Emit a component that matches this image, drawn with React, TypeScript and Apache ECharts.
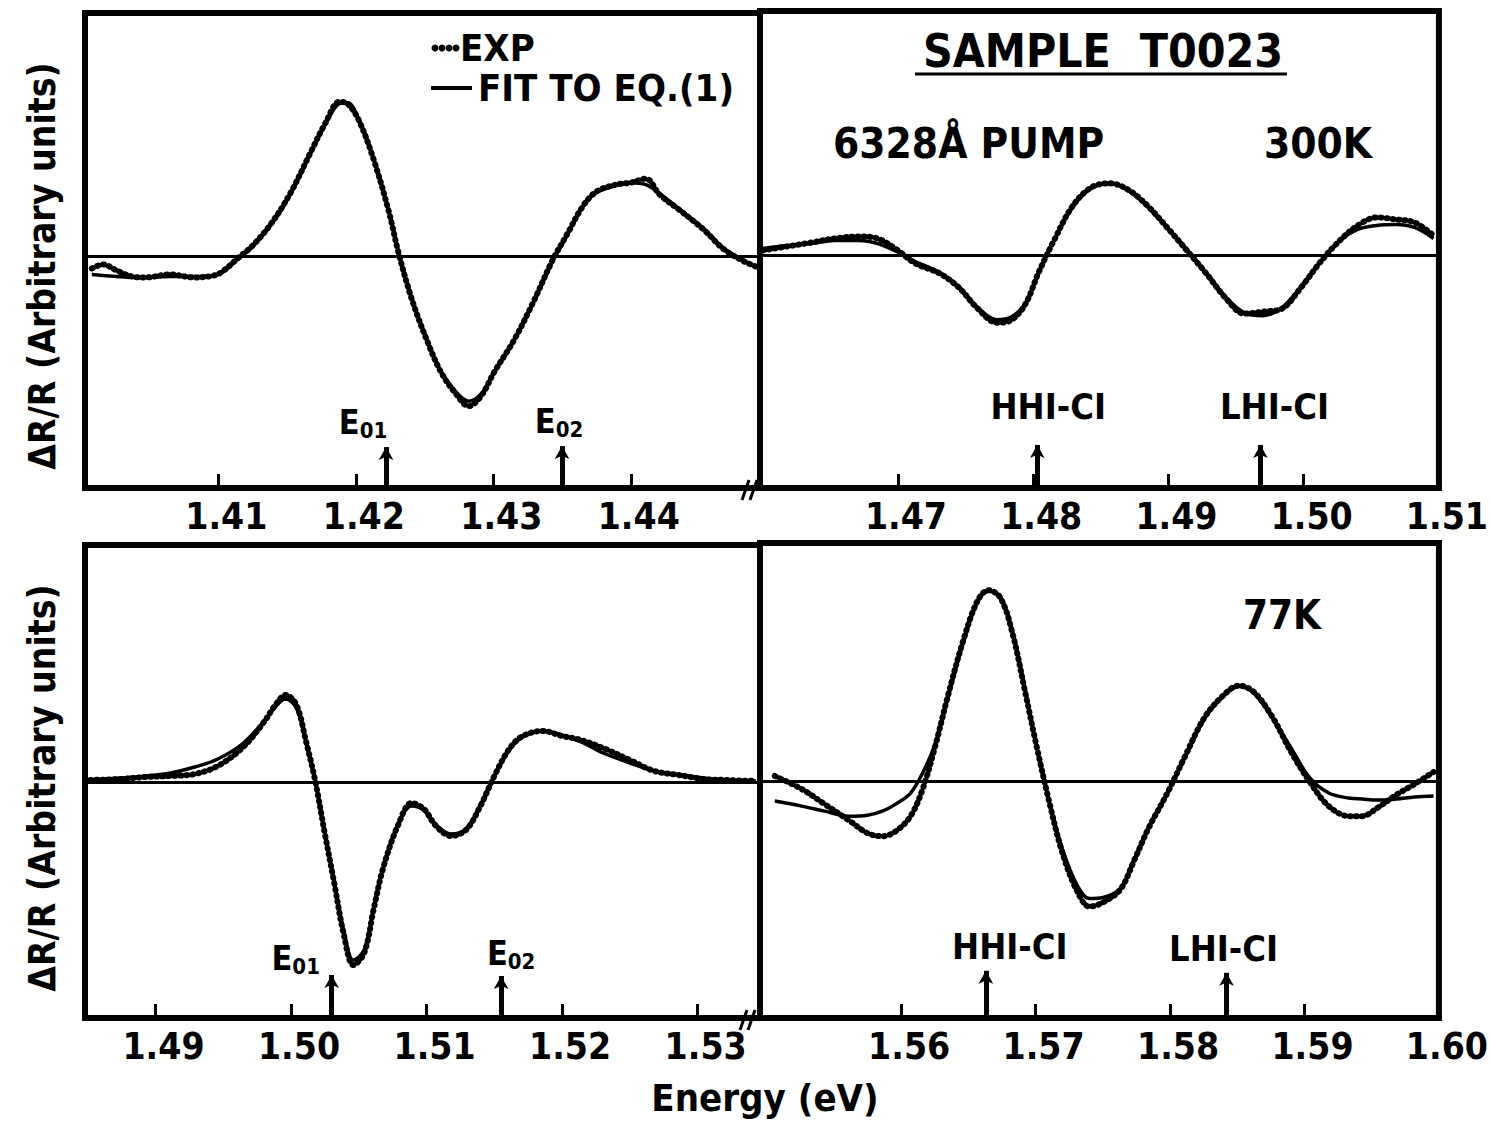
import React, { useEffect, useRef } from "react";
import * as echarts from "echarts";

// ---------- DATA ----------
// Top-left panel (300K, E01/E02 region)
const tlEnergy = [1.4008, 1.4016, 1.4026, 1.4037, 1.4047, 1.4065, 1.4082, 1.4097, 1.4104, 1.4114, 1.4125, 1.4139, 1.4153, 1.4167, 1.4178, 1.4188, 1.4194, 1.4202, 1.4213, 1.4224, 1.4231, 1.4241, 1.4252, 1.4262, 1.4273, 1.4282, 1.4291, 1.4301, 1.4315, 1.4329, 1.4343, 1.4354, 1.4365, 1.4375, 1.4389, 1.4400, 1.4411, 1.4421, 1.4435, 1.4453, 1.4467, 1.4481, 1.4491];
const tlFit = [-0.18, -0.19, -0.2, -0.21, -0.21, -0.2, -0.2, -0.19, -0.15, -0.03, 0.1, 0.33, 0.64, 1.03, 1.33, 1.53, 1.54, 1.38, 0.98, 0.46, 0.05, -0.43, -0.84, -1.15, -1.36, -1.45, -1.38, -1.15, -0.84, -0.46, -0.05, 0.22, 0.5, 0.64, 0.71, 0.74, 0.72, 0.63, 0.48, 0.28, 0.09, -0.03, -0.1];
const tlExp = [-0.12, -0.08, -0.14, -0.2, -0.21, -0.18, -0.21, -0.19, -0.14, -0.02, 0.11, 0.34, 0.65, 1.04, 1.34, 1.55, 1.53, 1.37, 0.97, 0.45, 0.04, -0.44, -0.85, -1.16, -1.38, -1.5, -1.4, -1.15, -0.84, -0.46, -0.04, 0.23, 0.5, 0.65, 0.72, 0.74, 0.78, 0.62, 0.47, 0.27, 0.08, -0.04, -0.1];

// Top-right panel (300K, HH1-C1 / LH1-C1 region)
const trEnergy = [1.46, 1.4618, 1.4636, 1.4653, 1.4671, 1.4685, 1.4699, 1.4713, 1.4731, 1.4745, 1.4759, 1.4773, 1.4783, 1.4794, 1.4804, 1.4815, 1.4829, 1.4843, 1.4857, 1.4871, 1.4885, 1.4899, 1.4913, 1.4928, 1.4942, 1.4956, 1.497, 1.4984, 1.4998, 1.5012, 1.5026, 1.504, 1.5054, 1.5068, 1.5082, 1.5096];
const trFit = [0.07, 0.1, 0.12, 0.15, 0.15, 0.12, 0.04, -0.06, -0.17, -0.31, -0.52, -0.64, -0.62, -0.48, -0.17, 0.14, 0.48, 0.67, 0.72, 0.64, 0.48, 0.28, 0.07, -0.17, -0.41, -0.57, -0.6, -0.52, -0.31, -0.07, 0.14, 0.26, 0.3, 0.31, 0.28, 0.17];
const trExp = [0.05, 0.09, 0.13, 0.17, 0.19, 0.17, 0.06, -0.08, -0.18, -0.32, -0.53, -0.67, -0.65, -0.49, -0.17, 0.14, 0.49, 0.68, 0.72, 0.65, 0.49, 0.28, 0.06, -0.18, -0.42, -0.58, -0.56, -0.53, -0.32, -0.07, 0.14, 0.3, 0.38, 0.36, 0.33, 0.2];

// Bottom-left panel (77K, E01/E02 region)
const blEnergy = [1.4852, 1.4875, 1.4893, 1.4911, 1.4929, 1.4946, 1.4964, 1.4979, 1.4989, 1.4996, 1.5004, 1.5011, 1.5018, 1.5025, 1.5032, 1.5039, 1.5046, 1.5054, 1.5061, 1.5068, 1.5079, 1.5089, 1.5098, 1.5107, 1.5118, 1.5129, 1.5139, 1.515, 1.5161, 1.5171, 1.5186, 1.52, 1.5214, 1.5232, 1.525, 1.5268, 1.5286, 1.5304, 1.5321, 1.5343];
const blFit = [0.02, 0.04, 0.06, 0.09, 0.15, 0.23, 0.38, 0.59, 0.76, 0.83, 0.74, 0.4, 0.0, -0.51, -1.0, -1.49, -1.78, -1.68, -1.26, -0.85, -0.42, -0.24, -0.28, -0.43, -0.52, -0.47, -0.25, 0.06, 0.32, 0.45, 0.51, 0.47, 0.4, 0.28, 0.19, 0.11, 0.075, 0.04, 0.02, 0.01];
const blExp = [0.02, 0.03, 0.05, 0.06, 0.08, 0.16, 0.34, 0.58, 0.78, 0.87, 0.77, 0.41, 0.0, -0.52, -1.02, -1.53, -1.83, -1.71, -1.27, -0.86, -0.43, -0.21, -0.27, -0.44, -0.54, -0.48, -0.26, 0.06, 0.33, 0.46, 0.51, 0.46, 0.42, 0.33, 0.22, 0.11, 0.07, 0.03, 0.02, 0.01];

// Bottom-right panel (77K, HH1-C1 / LH1-C1 region)
const brEnergy = [1.5506, 1.5526, 1.5543, 1.5561, 1.5575, 1.5586, 1.5596, 1.5607, 1.5616, 1.5625, 1.5635, 1.5646, 1.5657, 1.5665, 1.5674, 1.5683, 1.5692, 1.5701, 1.571, 1.572, 1.5731, 1.574, 1.575, 1.5763, 1.5773, 1.5784, 1.5798, 1.5812, 1.5826, 1.5841, 1.5851, 1.5862, 1.5876, 1.589, 1.5904, 1.5918, 1.5933, 1.5943, 1.5954, 1.5968, 1.5982, 1.5996];
const brFit = [-0.2, -0.25, -0.3, -0.35, -0.34, -0.3, -0.23, -0.12, 0.08, 0.36, 0.84, 1.37, 1.79, 1.89, 1.83, 1.48, 0.93, 0.32, -0.2, -0.68, -1.04, -1.17, -1.16, -1.07, -0.79, -0.46, -0.12, 0.26, 0.63, 0.86, 0.94, 0.88, 0.63, 0.33, 0.03, -0.12, -0.17, -0.18, -0.19, -0.18, -0.16, -0.15];
const brExp = [0.05, -0.08, -0.23, -0.39, -0.52, -0.55, -0.5, -0.35, -0.08, 0.33, 0.86, 1.39, 1.8, 1.9, 1.82, 1.46, 0.9, 0.33, -0.2, -0.72, -1.1, -1.25, -1.21, -1.08, -0.8, -0.47, -0.12, 0.27, 0.64, 0.87, 0.95, 0.89, 0.64, 0.29, -0.01, -0.25, -0.35, -0.35, -0.27, -0.14, -0.03, 0.09];

// Axis ticks (eV)
const tlTicks = [1.41, 1.42, 1.43, 1.44];
const trTicks = [1.47, 1.48, 1.49, 1.5, 1.51];
const blTicks = [1.49, 1.5, 1.51, 1.52, 1.53];
const brTicks = [1.56, 1.57, 1.58, 1.59, 1.6];

// Transition markers: [energy, label]
const tlMarks: [number, string][] = [[1.4222, "E01"], [1.435, "E02"]];
const trMarks: [number, string][] = [[1.4803, "HHI-CI"], [1.4968, "LHI-CI"]];
const blMarks: [number, string][] = [[1.503, "E01"], [1.5155, "E02"]];
const brMarks: [number, string][] = [[1.5663, "HHI-CI"], [1.5842, "LHI-CI"]];

// ---------- STYLE ----------
const FONT = "'DejaVu Sans Condensed', 'Liberation Sans Narrow', 'Liberation Sans', Arial, sans-serif";
const BLACK = "#000";

const pairs = (xs: number[], ys: number[]) => xs.map((x, i) => [x, ys[i]]);

function makeX(gridIndex: number, min: number, max: number, ticks: number[]) {
  return {
    type: "value",
    gridIndex,
    min,
    max,
    axisLine: { show: true, onZero: false, lineStyle: { color: BLACK, width: 6 } },
    axisTick: { show: true, inside: true, length: 14, customValues: ticks, lineStyle: { color: BLACK, width: 3 } },
    axisLabel: {
      show: true,
      customValues: ticks,
      formatter: (v: number) => v.toFixed(2),
      color: BLACK,
      fontSize: 37,
      fontWeight: "bold",
      fontFamily: FONT,
      margin: 10,
      padding: [0, 0, 0, 16],
      showMaxLabel: true,
      showMinLabel: true,
    },
    splitLine: { show: false },
  };
}

function makeY(gridIndex: number, min: number, max: number) {
  return { type: "value", gridIndex, min, max, show: false, splitLine: { show: false } };
}

function markerLabel(text: string, dx: number, dist: number) {
  const isE = text.startsWith("E");
  const pad = dx >= 0 ? [0, 0, 0, 2 * dx] : [0, -2 * dx, 0, 0];
  return {
    show: true,
    position: "end",
    distance: dist,
    padding: pad,
    color: BLACK,
    fontFamily: FONT,
    fontWeight: "bold",
    fontSize: 36,
    formatter: isE ? `{e|E}{s|${text.slice(1)}}` : text,
    rich: {
      e: { fontSize: 34, lineHeight: 34, fontWeight: "bold", fontFamily: FONT, color: BLACK },
      s: { fontSize: 22, lineHeight: 22, padding: [16, 0, 0, 0], fontWeight: "bold", fontFamily: FONT, color: BLACK },
    },
  };
}

function panelSeries(
  idx: number,
  E: number[],
  fit: number[],
  exp: number[],
  marks: [number, string][],
  yMin: number,
  arrowTops: number[],
  dxs: number[],
  dists: number[]
) {
  const markData: any[] = [{ yAxis: 0, lineStyle: { color: BLACK, width: 3, type: "solid" } }];
  const arrowLine = { color: BLACK, width: 5, type: "solid" };
  marks.forEach(([e, t], i) => {
    markData.push([
      {
        coord: [e, yMin],
        symbol: "none",
        lineStyle: arrowLine,
        label: markerLabel(t, dxs[i], dists[i]),
      },
      { coord: [e, arrowTops[i]], symbol: "arrow", symbolSize: [11, 13], lineStyle: arrowLine },
    ]);
  });
  return [
    {
      type: "line",
      name: "EXP",
      xAxisIndex: idx,
      yAxisIndex: idx,
      data: pairs(E, exp),
      showSymbol: false,
      smooth: 0.35,
      silent: true,
      lineStyle: { color: BLACK, width: 6, type: [1, 5], cap: "round" },
      z: 3,
    },
    {
      type: "line",
      name: "FIT TO EQ.(1)",
      xAxisIndex: idx,
      yAxisIndex: idx,
      data: pairs(E, fit),
      showSymbol: false,
      smooth: 0.35,
      silent: true,
      lineStyle: { color: BLACK, width: 3.5 },
      z: 4,
      markLine: {
        silent: true,
        symbol: ["none", "none"],
        label: { show: false },
        lineStyle: { color: BLACK, width: 5, type: "solid" },
        data: markData,
      },
    },
  ];
}

const textStyle = (text: string, size: number, align = "left") => ({
  text,
  fontSize: size,
  fontWeight: "bold",
  fontFamily: FONT,
  fill: BLACK,
  align,
  textAlign: align,
  verticalAlign: "middle",
  textVerticalAlign: "middle",
});

export default function App() {
  const ref = useRef<HTMLDivElement>(null);
  useEffect(() => {
    if (!ref.current) return;
    const chart = echarts.init(ref.current, undefined, { renderer: "svg" });
    const tY: [number, number] = [-2.32, 2.44];
    const bY: [number, number] = [-2.36, 2.37];
    const option: any = {
      animation: false,
      backgroundColor: "#fff",
      grid: [
        { left: 85, top: 13, width: 675, height: 475, show: true, borderColor: BLACK, borderWidth: 6, backgroundColor: "transparent" },
        { left: 760, top: 11, width: 682, height: 477, show: true, borderColor: BLACK, borderWidth: 6, backgroundColor: "transparent" },
        { left: 85, top: 545, width: 675, height: 473, show: true, borderColor: BLACK, borderWidth: 6, backgroundColor: "transparent" },
        { left: 760, top: 543, width: 682, height: 475, show: true, borderColor: BLACK, borderWidth: 6, backgroundColor: "transparent" },
      ],
      xAxis: [
        makeX(0, 1.4003, 1.4494, tlTicks),
        makeX(1, 1.4598, 1.51, trTicks),
        makeX(2, 1.4848, 1.5346, blTicks),
        makeX(3, 1.5495, 1.6, brTicks),
      ],
      yAxis: [makeY(0, tY[0], tY[1]), makeY(1, tY[0], tY[1]), makeY(2, bY[0], bY[1]), makeY(3, bY[0], bY[1])],
      series: [
        ...panelSeries(0, tlEnergy, tlFit, tlExp, tlMarks, tY[0], [-1.91, -1.9], [-23, -3], [8, 8]),
        ...panelSeries(1, trEnergy, trFit, trExp, trMarks, tY[0], [-1.89, -1.89], [11, 14], [20, 20]),
        ...panelSeries(2, blEnergy, blFit, blExp, blMarks, bY[0], [-1.93, -1.94], [-36, 10], [0, 6]),
        ...panelSeries(3, brEnergy, brFit, brExp, brMarks, bY[0], [-1.89, -1.91], [24, -3], [6, 6]),
      ],
      graphic: [
        // y-axis titles
        { type: "text", x: 42, y: 266, rotation: Math.PI / 2, style: textStyle("ΔR/R (Arbitrary units)", 37, "center") },
        { type: "text", x: 42, y: 788, rotation: Math.PI / 2, style: textStyle("ΔR/R (Arbitrary units)", 37, "center") },
        // x-axis title
        { type: "text", x: 765, y: 1098, style: textStyle("Energy (eV)", 38, "center") },
        // legend
        { type: "circle", shape: { cx: 435, cy: 48, r: 3.5 }, style: { fill: BLACK } },
        { type: "circle", shape: { cx: 442, cy: 48, r: 3.5 }, style: { fill: BLACK } },
        { type: "circle", shape: { cx: 449, cy: 48, r: 3.5 }, style: { fill: BLACK } },
        { type: "circle", shape: { cx: 456, cy: 48, r: 3.5 }, style: { fill: BLACK } },
        { type: "text", x: 460, y: 48, style: textStyle("EXP", 38) },
        { type: "line", shape: { x1: 431, y1: 88, x2: 472, y2: 88 }, style: { stroke: BLACK, lineWidth: 4 } },
        { type: "text", x: 478, y: 88, style: textStyle("FIT TO EQ.(1)", 38) },
        // annotations
        { type: "text", x: 1103, y: 51, style: textStyle("SAMPLE  T0023", 46, "center") },
        { type: "line", shape: { x1: 915, y1: 74, x2: 1287, y2: 74 }, style: { stroke: BLACK, lineWidth: 3 } },
        { type: "text", x: 833, y: 143, style: textStyle("6328Å PUMP", 42) },
        { type: "text", x: 1264, y: 143, style: textStyle("300K", 42) },
        { type: "text", x: 1243, y: 615, style: textStyle("77K", 40) },
        // axis break marks
        { type: "line", shape: { x1: 742, y1: 500, x2: 749, y2: 480 }, style: { stroke: BLACK, lineWidth: 3 } },
        { type: "line", shape: { x1: 750, y1: 500, x2: 757, y2: 480 }, style: { stroke: BLACK, lineWidth: 3 } },
        { type: "line", shape: { x1: 740, y1: 1030, x2: 747, y2: 1010 }, style: { stroke: BLACK, lineWidth: 3 } },
        { type: "line", shape: { x1: 748, y1: 1030, x2: 755, y2: 1010 }, style: { stroke: BLACK, lineWidth: 3 } },
      ],
    };
    chart.setOption(option);
    return () => chart.dispose();
  }, []);
  return (
    <div
      ref={ref}
      style={{ position: "absolute", left: 0, top: 0, width: 1491, height: 1122, background: "#fff" }}
    />
  );
}
